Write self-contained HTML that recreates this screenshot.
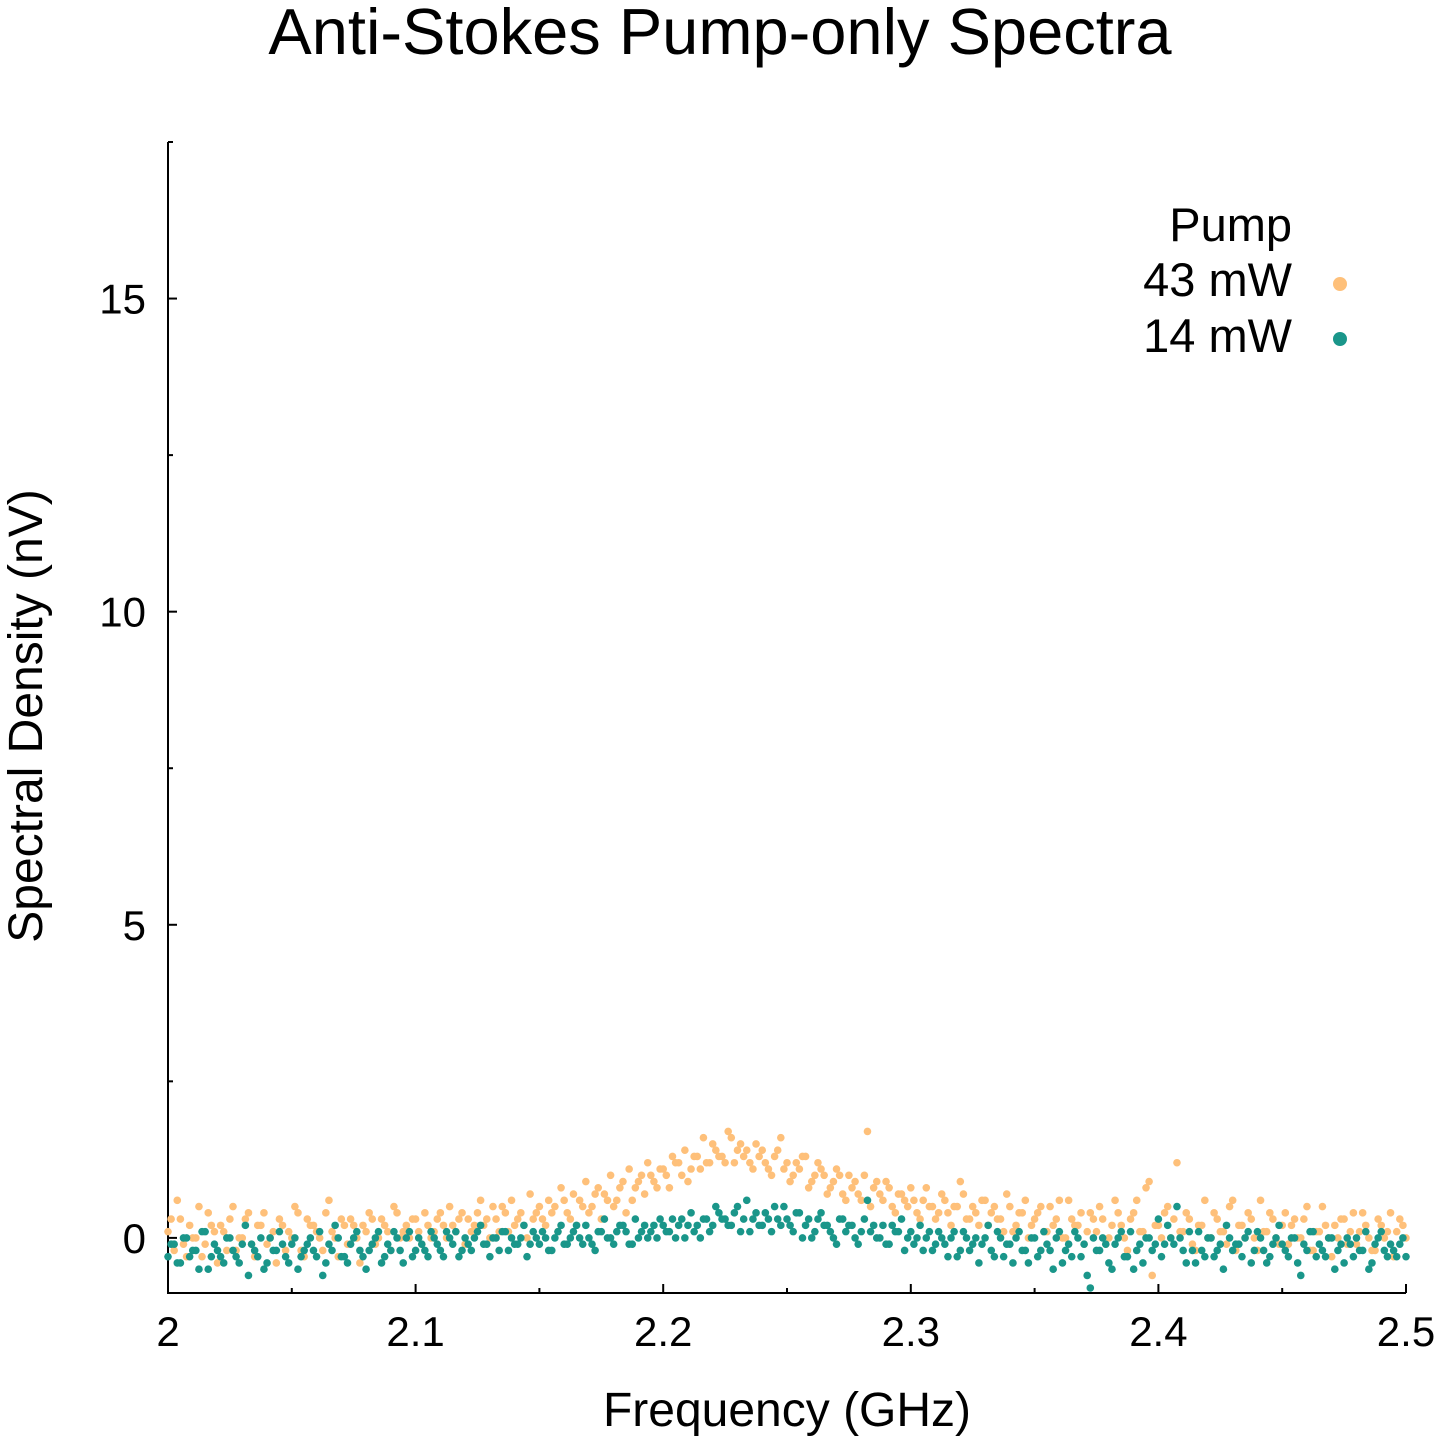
<!DOCTYPE html>
<html><head><meta charset="utf-8"><style>
html,body{margin:0;padding:0;background:#fff}
svg{display:block;font-family:"Liberation Sans",sans-serif}
</style></head><body>
<svg id="chart" width="1440" height="1440" viewBox="0 0 1440 1440">
<text x="720" y="54" font-size="65" text-anchor="middle">Anti-Stokes Pump-only Spectra</text>
<text x="787" y="1426" font-size="48" text-anchor="middle">Frequency (GHz)</text>
<text transform="translate(42,716) rotate(-90)" font-size="48" text-anchor="middle">Spectral Density (nV)</text>
<g id="axes"></g>
<g id="pts43"></g>
<g id="pts14"></g>
<g>
<text x="1292" y="241" font-size="47" text-anchor="end">Pump</text>
<text x="1292" y="296" font-size="47" text-anchor="end">43 mW</text>
<circle cx="1340" cy="284" r="7" fill="#fec07a"/>
<text x="1292" y="352" font-size="47" text-anchor="end">14 mW</text>
<circle cx="1340" cy="339" r="7" fill="#1a968a"/>
</g>
</svg>
<script>
const xStart = 2.0, xStep = 0.0025, xStartB = 2.00125;
const xTicks = [2, 2.1, 2.2, 2.3, 2.4, 2.5];
const xTickLabels = ["2", "2.1", "2.2", "2.3", "2.4", "2.5"];
const yTicks = [0, 5, 10, 15];
const yTickLabels = ["0", "5", "10", "15"];
const orange43 = [0.1,-0.2,0.3,-0.3,0.0,0.5,-0.1,0.2,-0.4,0.1,0.3,-0.2,0.0,0.4,-0.3,0.2,-0.1,0.1,0.3,-0.2,
0.0,0.4,-0.3,0.2,0.1,-0.2,0.6,0.0,0.3,-0.1,0.2,-0.4,0.1,0.3,0.0,0.2,-0.2,0.4,0.1,0.0,
0.3,-0.1,0.2,0.1,0.4,0.0,0.2,0.3,-0.1,0.1,0.4,0.2,0.0,0.3,0.5,0.1,0.2,0.4,0.0,0.3,
0.5,0.2,0.4,0.1,0.6,0.3,0.2,0.5,0.4,0.7,0.3,0.6,0.5,0.8,0.4,0.6,0.9,0.7,1.0,0.8,
1.1,0.8,1.2,1.0,0.9,1.3,1.1,1.2,1.5,1.3,1.2,1.6,1.4,1.3,1.2,1.5,1.4,1.1,1.3,1.6,
1.2,1.0,1.1,1.3,0.9,1.2,1.0,0.8,1.1,0.7,1.0,0.9,0.6,1.7,0.8,0.7,0.9,0.5,0.7,0.6,
0.8,0.4,0.6,0.5,0.3,0.7,0.4,0.5,0.9,0.3,0.5,0.2,0.6,0.4,0.3,0.1,0.5,0.2,0.4,0.0,
0.3,0.5,0.1,0.2,0.6,0.0,0.3,0.2,-0.1,0.4,0.1,0.3,0.0,0.6,0.2,-0.2,0.4,0.1,0.8,-0.6,
0.2,0.4,0.0,1.2,0.1,0.3,-0.2,0.2,0.0,0.4,0.1,-0.1,0.6,0.2,0.0,0.3,-0.2,0.1,0.4,0.0,
0.2,-0.1,0.3,0.0,0.5,-0.2,0.1,0.2,-0.3,0.0,0.3,0.1,-0.1,0.4,0.0,-0.2,0.2,0.1,-0.3,0.3,0.0];
const orange43b = [0.3,0.6,-0.1,0.2,0.0,-0.3,0.4,0.1,0.2,-0.2,0.5,0.0,0.3,-0.1,0.2,0.4,0.0,-0.4,0.2,0.1,
0.5,-0.2,0.3,0.2,0.0,0.4,0.1,-0.3,0.2,0.3,0.0,0.2,0.4,-0.1,0.3,0.1,0.5,0.0,0.2,0.3,
0.1,0.4,0.0,0.3,0.2,0.5,0.1,0.4,0.3,0.2,0.6,0.3,0.5,0.1,0.4,0.6,0.3,0.2,0.7,0.4,
0.3,0.6,0.5,0.8,0.4,0.7,0.6,0.9,0.5,0.8,0.7,1.0,0.6,0.9,1.1,0.8,1.0,1.2,0.9,1.1,
1.0,1.3,1.2,1.4,1.1,1.3,1.6,1.2,1.4,1.3,1.7,1.2,1.5,1.4,1.1,1.3,1.2,1.0,1.4,1.1,
0.9,1.2,1.3,0.8,1.0,1.1,0.7,0.9,1.0,0.6,0.8,0.7,1.0,0.5,0.9,0.6,0.8,0.4,0.7,0.5,
0.6,0.3,0.8,0.5,0.4,0.6,0.2,0.5,0.7,0.3,0.4,0.6,0.2,0.5,0.3,0.7,0.1,0.4,0.6,0.2,
0.4,0.1,0.5,0.3,0.0,0.6,0.2,0.4,0.1,0.3,0.5,-0.1,0.2,0.4,0.0,0.3,0.6,0.1,0.9,0.2,
0.0,0.5,0.3,0.1,0.4,-0.1,0.2,0.6,0.0,0.3,0.1,0.5,-0.2,0.2,0.4,0.0,0.6,0.1,0.3,-0.1,
0.4,0.2,0.0,0.3,-0.2,0.1,0.5,0.0,0.2,0.3,-0.1,0.4,0.1,0.2,-0.2,0.3,0.0,0.4,0.1,0.2];
const teal14 = [-0.3,-0.1,-0.4,0.0,-0.2,-0.5,0.1,-0.3,-0.2,-0.4,0.0,-0.3,-0.1,-0.6,-0.2,0.0,-0.4,-0.2,0.1,-0.3,
-0.1,-0.5,-0.2,0.0,-0.3,-0.6,-0.1,0.2,-0.3,-0.4,0.0,-0.2,-0.5,-0.1,0.1,-0.3,-0.2,0.0,-0.4,0.1,
-0.2,-0.1,-0.3,0.0,-0.2,0.1,-0.1,-0.3,0.0,-0.2,0.1,-0.1,-0.3,0.0,0.1,-0.2,-0.1,0.0,-0.3,0.1,
-0.1,0.0,-0.2,0.1,-0.1,0.0,0.2,-0.1,0.0,-0.2,0.1,0.0,-0.1,0.2,0.1,-0.1,0.0,0.2,0.1,0.0,
0.2,0.1,0.0,0.3,0.2,0.1,0.0,0.3,0.2,0.4,0.3,0.2,0.5,0.3,0.1,0.4,0.2,0.3,0.5,0.2,
0.3,0.1,0.4,0.2,0.0,0.3,0.2,0.1,-0.1,0.3,0.2,0.0,0.1,0.6,0.2,0.0,-0.1,0.2,0.1,-0.2,
0.1,0.0,-0.2,0.1,-0.1,0.0,-0.3,0.1,-0.2,0.0,-0.1,-0.4,0.0,-0.2,0.1,-0.3,-0.1,0.0,-0.2,-0.4,
0.0,-0.2,-0.1,-0.5,0.1,-0.2,-0.3,0.0,-0.1,-0.8,-0.2,0.0,-0.4,-0.1,0.1,-0.3,-0.5,-0.1,0.0,-0.2,
0.3,-0.1,0.0,0.5,-0.2,0.1,-0.4,-0.2,0.0,-0.3,-0.1,0.2,-0.2,-0.1,0.0,-0.4,0.1,-0.2,-0.3,0.0,
-0.1,-0.3,0.0,-0.6,-0.2,0.1,-0.1,-0.3,0.0,-0.2,-0.4,-0.1,0.0,-0.2,-0.5,-0.1,0.1,-0.3,-0.2,-0.1,-0.3];
const teal14b = [-0.1,-0.4,0.0,-0.3,-0.2,0.1,-0.5,-0.1,-0.3,0.0,-0.2,-0.4,0.2,-0.1,-0.3,-0.5,0.0,-0.2,-0.1,-0.4,
0.0,-0.3,-0.1,-0.2,0.1,-0.4,-0.2,0.0,-0.3,-0.1,0.1,-0.3,-0.2,0.0,-0.4,-0.1,0.1,-0.2,0.0,-0.3,
0.0,-0.2,0.1,-0.1,-0.3,0.0,0.1,-0.2,-0.1,0.0,0.2,-0.1,0.0,-0.2,0.1,0.0,-0.1,0.2,-0.1,0.0,
0.1,-0.2,0.0,0.2,-0.1,0.1,0.0,0.2,-0.1,0.1,0.3,0.0,0.1,0.2,-0.1,0.3,0.1,0.0,0.2,0.3,
0.1,0.3,0.2,0.0,0.4,0.2,0.3,0.1,0.5,0.3,0.2,0.4,0.1,0.6,0.3,0.2,0.4,0.1,0.3,0.5,
0.2,0.4,0.0,0.3,0.1,0.4,0.2,0.0,0.3,0.1,0.2,-0.1,0.3,0.1,0.0,0.2,-0.1,0.1,0.3,0.0,
-0.1,0.2,0.0,-0.2,0.1,-0.1,0.0,-0.3,0.1,-0.2,0.0,-0.1,0.2,-0.3,0.0,-0.1,-0.4,0.1,-0.2,0.0,
-0.3,0.1,-0.2,0.0,-0.4,-0.1,0.1,-0.3,-0.6,0.0,-0.2,-0.1,-0.5,0.0,-0.3,0.1,-0.2,-0.4,0.0,-0.1,
-0.3,0.2,-0.1,0.0,-0.4,-0.2,0.1,-0.3,0.0,-0.2,-0.5,0.0,-0.1,-0.3,0.1,-0.2,0.0,-0.4,-0.1,0.2,
-0.2,0.0,-0.4,-0.1,0.1,-0.3,-0.2,0.0,-0.5,-0.1,0.0,-0.3,-0.2,0.1,-0.4,0.0,-0.2,-0.1,-0.3,0.0];

const NS = "http://www.w3.org/2000/svg";
const X0 = 168, X1 = 1406, Y0 = 1293, Y1 = 142;
const xMin = 2, xMax = 2.5, yMin = -0.88, yMax = 17.5;
function sx(v){ return X0 + (v - xMin) / (xMax - xMin) * (X1 - X0); }
function sy(v){ return Y0 - (v - yMin) / (yMax - yMin) * (Y0 - Y1); }
function mk(tag, attrs, parent){ const e = document.createElementNS(NS, tag); for (const k in attrs) e.setAttribute(k, attrs[k]); parent.appendChild(e); return e; }

const axes = document.getElementById('axes');
let ln = mk('path', {d:`M${X0},${Y1}V${Y0}H${X1}`, stroke:'#000', 'stroke-width':2, fill:'none'}, axes);


xTicks.forEach((t, i) => {
  const x = sx(t);
  const tk = mk('line', {x1:x, x2:x, y1:Y0, y2:Y0-9, stroke:'#000', 'stroke-width':2}, axes);
  
  
  if (i < xTicks.length - 1) {
    const mx = sx(t + 0.05);
    const mt = mk('line', {x1:mx, x2:mx, y1:Y0, y2:Y0-5, stroke:'#000', 'stroke-width':2}, axes);
    
    
  }
  const lb = mk('text', {x:x, y:Y0+53, 'font-size':42, 'text-anchor':'middle'}, axes);
  lb.textContent = xTickLabels[i];
  
  
});
yTicks.forEach((t, i) => {
  const y = sy(t);
  const tk = mk('line', {x1:X0, x2:X0+9, y1:y, y2:y, stroke:'#000', 'stroke-width':2}, axes);
  
  
  const my = sy(t + 2.5);
  const mt = mk('line', {x1:X0, x2:X0+5, y1:my, y2:my, stroke:'#000', 'stroke-width':2}, axes);
  
  
  const lb = mk('text', {x:X0-22, y:y+15, 'font-size':42, 'text-anchor':'end'}, axes);
  lb.textContent = yTickLabels[i];
  
  
});
function drawSeries(gid, vals, start, color, name){
  const g = document.getElementById(gid);
  vals.forEach((v, i) => {
    const c = mk('circle', {cx:sx(start + i*xStep), cy:sy(v), r:3.8, fill:color}, g);
    
    
  });
}
drawSeries('pts43', orange43, xStart, '#fec07a', 'point-43mw');
drawSeries('pts43', orange43b, xStartB, '#fec07a', 'point-43mw');
drawSeries('pts14', teal14, xStart, '#1a968a', 'point-14mw');
drawSeries('pts14', teal14b, xStartB, '#1a968a', 'point-14mw');
</script>
</body></html>
